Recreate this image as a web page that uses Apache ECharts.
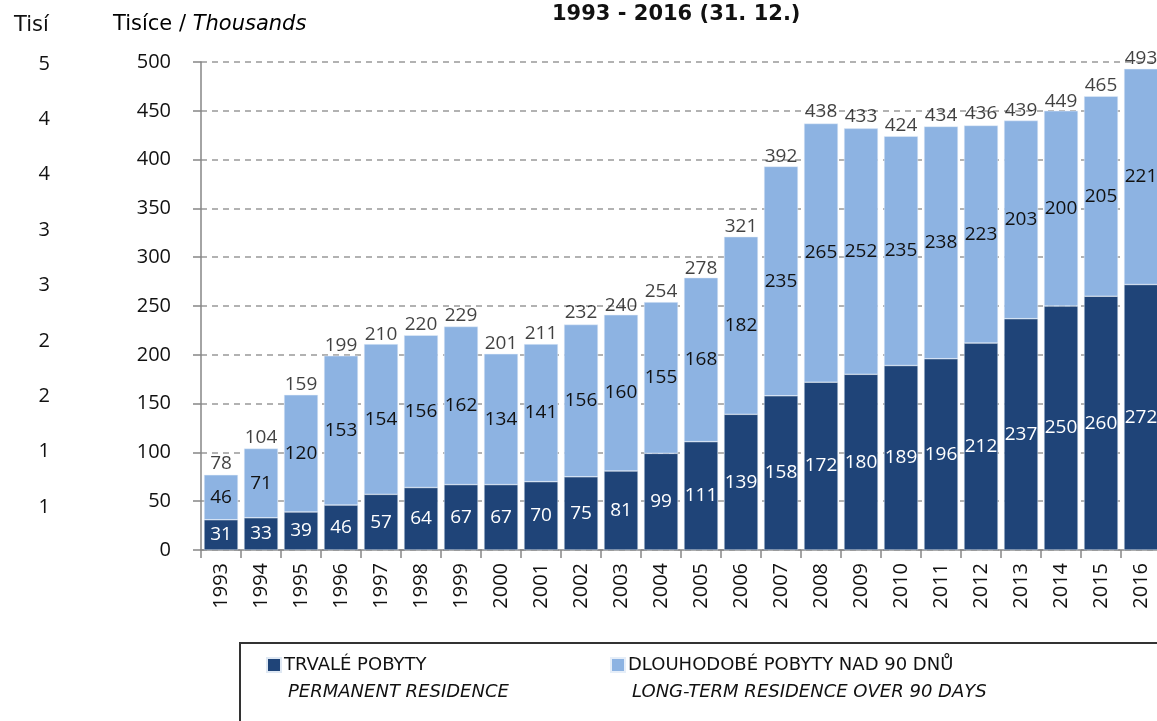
<!DOCTYPE html>
<html>
<head>
<meta charset="utf-8">
<script src="https://cdn.jsdelivr.net/npm/echarts@6/dist/echarts.min.js"></script>
<style>
html, body { margin: 0; padding: 0; background: #fff; }
#main { width: 1157px; height: 721px; }
</style>
</head>
<body>
<div id="main"></div>
<script>
// roky a hodnoty (tisíce)
var years = ['1993','1994','1995','1996','1997','1998','1999','2000','2001','2002','2003','2004',
	'2005','2006','2007','2008','2009','2010','2011','2012','2013','2014','2015','2016'];
var trvale = [31,33,39,46,57,64,67,67,70,75,81,99,111,139,158,172,180,189,196,212,237,250,260,272];
var dlouhodobe = [46,71,120,153,154,156,162,134,141,156,160,155,168,182,235,265,252,235,238,223,203,200,205,221];
var celkem = [78,104,159,199,210,220,229,201,211,232,240,254,278,321,392,438,433,424,434,436,439,449,465,493];

var FONT = 'Open Sans';
var WIDE = 'DejaVu Sans';
var DARK = '#1f4478';
var LIGHT = '#8db3e2';

var option = {
	animation: false,
	backgroundColor: '#fff',
	textStyle: { fontFamily: FONT },
	title: {
		text: '1993 - 2016 (31. 12.)',
		left: 552,
		top: 4,
		padding: 0,
		textStyle: { fontFamily: WIDE, fontSize: 21, fontWeight: 'bold', color: '#111' }
	},
	legend: [{
		data: ['TRVALÉ POBYTY'],
		left: 266,
		top: 656,
		padding: 0,
		itemWidth: 14,
		itemHeight: 14,
		itemGap: 4,
		icon: 'rect',
		textStyle: { fontFamily: WIDE, fontSize: 18, color: '#111', padding: [0, 0, 0, -2] }
	}, {
		data: ['DLOUHODOBÉ POBYTY NAD 90 DNŮ'],
		left: 610,
		top: 656,
		padding: 0,
		itemWidth: 14,
		itemHeight: 14,
		icon: 'rect',
		textStyle: { fontFamily: WIDE, fontSize: 18, color: '#111', padding: [0, 0, 0, -2] }
	}],
	graphic: [{
		type: 'rect',
		shape: { x: 240, y: 643, width: 940, height: 100 },
		style: { fill: 'none', stroke: '#333', lineWidth: 2 }
	}, {
		type: 'text',
		left: 288, top: 683,
		style: { text: 'PERMANENT RESIDENCE', font: 'italic 18px "DejaVu Sans"', fill: '#111' }
	}, {
		type: 'text',
		left: 632, top: 683,
		style: { text: 'LONG-TERM RESIDENCE OVER 90 DAYS', font: 'italic 18px "DejaVu Sans"', fill: '#111' }
	}, {
		type: 'text',
		left: 14, top: 15,
		style: { text: 'Tisí', font: '21px "DejaVu Sans"', fill: '#111' }
	}, {
		type: 'text',
		left: 113, top: 14,
		style: {
			text: '{a|Tisíce / }{b|Thousands}',
			rich: {
				a: { fontFamily: WIDE, fontSize: 21, color: '#111' },
				b: { fontFamily: WIDE, fontSize: 21, fontStyle: 'italic', color: '#111' }
			}
		}
	}],
	grid: [{
		left: 201,
		top: 62,
		width: 960,
		height: 488,
		outerBoundsMode: 'none'
	}, {
		left: 60,
		top: 64,
		width: 10,
		height: 443,
		outerBoundsMode: 'none'
	}],
	xAxis: [{
		type: 'category',
		data: years,
		axisLine: { show: true, lineStyle: { color: '#868686', width: 1.5 } },
		axisTick: { show: true, length: 8, lineStyle: { color: '#868686', width: 1.5 } },
		axisLabel: { rotate: 90, fontSize: 20, color: '#111', margin: 13 },
		splitLine: { show: false }
	}, {
		type: 'category',
		gridIndex: 1,
		data: [''],
		show: false
	}],
	yAxis: [{
		type: 'value',
		min: 0,
		max: 500,
		interval: 50,
		axisLine: { show: true, lineStyle: { color: '#868686', width: 1.5 } },
		axisTick: { show: true, length: 8, lineStyle: { color: '#868686', width: 1.5 } },
		axisLabel: { fontSize: 20, color: '#111', margin: 30 },
		splitLine: { show: true, lineStyle: { color: '#999', type: [6, 5], width: 1.5 } }
	}, {
		type: 'value',
		gridIndex: 1,
		min: 1,
		max: 5,
		interval: 0.5,
		axisLine: { show: false },
		axisTick: { show: false },
		splitLine: { show: false },
		axisLabel: {
			fontSize: 20, color: '#111', margin: 10,
			formatter: function(v) { return Math.floor(v); }
		}
	}],
	series: [{
		name: 'TRVALÉ POBYTY',
		type: 'bar',
		stack: 'pobyty',
		data: trvale,
		barCategoryGap: '15%',
		itemStyle: { color: DARK, borderColor: '#dfe8f3', borderWidth: 0.5 },
		label: { show: true, position: 'inside', color: '#fff', fontSize: 19, fontFamily: FONT }
	}, {
		name: 'DLOUHODOBÉ POBYTY NAD 90 DNŮ',
		type: 'bar',
		stack: 'pobyty',
		data: dlouhodobe,
		barCategoryGap: '15%',
		itemStyle: { color: LIGHT, borderColor: '#e6eef8', borderWidth: 0.5 },
		label: { show: true, position: 'inside', color: '#111', fontSize: 19, fontFamily: FONT }
	}, {
		name: 'celkem',
		type: 'scatter',
		data: celkem,
		symbolSize: 0,
		silent: true,
		label: { show: true, position: 'top', distance: 1, color: '#111', fontSize: 19, fontFamily: FONT }
	}]
};

var myChart = echarts.init(document.getElementById('main'));
myChart.setOption(option, true);
</script>
</body>
</html>
